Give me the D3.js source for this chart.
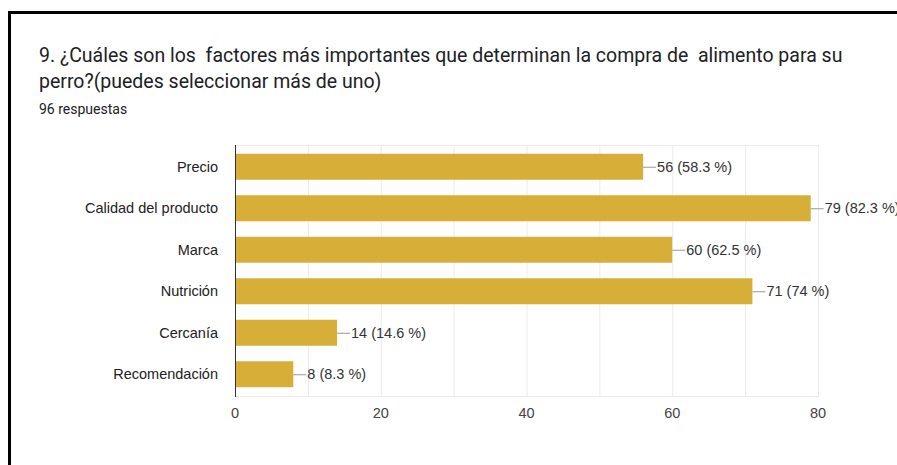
<!DOCTYPE html>
<html>
<head>
<meta charset="utf-8">
<script src="https://cdn.jsdelivr.net/npm/d3@7"></script>
<style>
  body { margin: 0; background: #fff; }
  svg { display: block; }
</style>
</head>
<body>
<div id="grafico"></div>
<script>
// donnees
var categories = ["Precio", "Calidad del producto", "Marca", "Nutrición", "Cercanía", "Recomendación"];
var valeurs = [56, 79, 60, 71, 14, 8];
var pourcentages = ["58.3", "82.3", "62.5", "74", "14.6", "8.3"];
var ticks = [0, 20, 40, 60, 80];
var titre1 = "9. ¿Cuáles son los  factores más importantes que determinan la compra de  alimento para su";
var titre2 = "perro?(puedes seleccionar más de uno)";
var sousTitre = "96 respuestas";

var largeur = 897, hauteur = 465;
var svg = d3.select("#grafico").append("svg").attr("width", largeur).attr("height", hauteur);

// cadre noir (coupe a droite et en bas)
svg.append("path")
  .attr("d", "M9.5," + hauteur + " V12.5 H" + largeur)
  .attr("fill", "none")
  .attr("stroke", "#000")
  .attr("stroke-width", 3);

var police = "Roboto, Arial, sans-serif";
svg.append("text").attr("x", 39).attr("y", 62)
  .style("white-space", "pre")
  .attr("font-family", police).attr("font-size", 19.5).attr("fill", "#202124")
  .text(titre1);
svg.append("text").attr("x", 39).attr("y", 88)
  .attr("font-family", police).attr("font-size", 19.5).attr("fill", "#202124")
  .text(titre2);
svg.append("text").attr("x", 39).attr("y", 114)
  .attr("font-family", police).attr("font-size", 14).attr("fill", "#202124")
  .text(sousTitre);

var x = d3.scaleLinear().domain([0, 80]).range([235, 818]);
var y = d3.scaleBand().domain(categories).range([145, 396]).paddingInner(0.374).paddingOuter(0.211);

var axeFont = "Arial, 'Liberation Sans', sans-serif";

// grille tous les 10
svg.append("g").selectAll("line").data(d3.range(10, 81, 10)).enter().append("line")
  .attr("x1", function(d) { return x(d) + 0.5; })
  .attr("x2", function(d) { return x(d) + 0.5; })
  .attr("y1", 145).attr("y2", 396)
  .attr("stroke", "#ebebeb").attr("stroke-width", 1);
svg.append("line").attr("x1", 235).attr("x2", 819).attr("y1", 145.5).attr("y2", 145.5)
  .attr("stroke", "#ebebeb");
svg.append("line").attr("x1", 235).attr("x2", 819).attr("y1", 396.5).attr("y2", 396.5)
  .attr("stroke", "#ebebeb");

// barres
svg.append("g").selectAll("rect").data(valeurs).enter().append("rect")
  .attr("x", x(0))
  .attr("y", function(d, i) { return y(categories[i]); })
  .attr("width", function(d) { return x(d) - x(0); })
  .attr("height", y.bandwidth())
  .attr("fill", "#d6ae38");

// axe vertical
svg.append("line").attr("x1", 235.5).attr("x2", 235.5).attr("y1", 145).attr("y2", 397)
  .attr("stroke", "#333").attr("stroke-width", 1);

// etiquettes des categories
svg.append("g").selectAll("text").data(categories).enter().append("text")
  .attr("x", 218)
  .attr("y", function(d) { return y(d) + y.bandwidth() / 2; })
  .attr("dy", "0.35em")
  .attr("text-anchor", "end")
  .attr("font-family", axeFont).attr("font-size", 14.5).attr("fill", "#222")
  .text(function(d) { return d; });

// graduations
svg.append("g").selectAll("text").data(ticks).enter().append("text")
  .attr("x", function(d) { return x(d); })
  .attr("y", 418)
  .attr("text-anchor", "middle")
  .attr("font-family", axeFont).attr("font-size", 14.5).attr("fill", "#444")
  .text(function(d) { return d; });

// valeurs avec petit trait
var etiquettes = svg.append("g").selectAll("g").data(valeurs).enter().append("g");
etiquettes.append("line")
  .attr("x1", function(d) { return x(d); })
  .attr("x2", function(d) { return x(d) + 13; })
  .attr("y1", function(d, i) { return y(categories[i]) + y.bandwidth() / 2 + 0.5; })
  .attr("y2", function(d, i) { return y(categories[i]) + y.bandwidth() / 2 + 0.5; })
  .attr("stroke", "#999").attr("stroke-width", 1);
etiquettes.append("text")
  .attr("x", function(d) { return x(d) + 14; })
  .attr("y", function(d, i) { return y(categories[i]) + y.bandwidth() / 2; })
  .attr("dy", "0.35em")
  .attr("font-family", axeFont).attr("font-size", 14.5).attr("fill", "#333")
  .text(function(d, i) { return d + " (" + pourcentages[i] + " %)"; });
</script>
</body>
</html>
